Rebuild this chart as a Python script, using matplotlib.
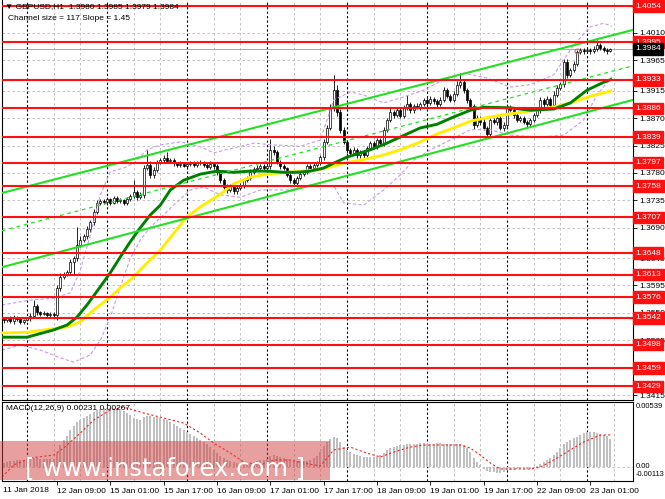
import matplotlib
matplotlib.use("Agg")
import matplotlib.pyplot as plt
import matplotlib.transforms as mtransforms
from matplotlib.patches import Rectangle

plt.rcParams['font.family'] = ['Liberation Sans', 'DejaVu Sans']

# H1 closes, one per bar (bar 1 = 11 Jan 17:00 ... bar 183 = 23 Jan 07:00)
closes = [1.3538, 1.3541, 1.3537, 1.3543, 1.3540, 1.3535, 1.3538, 1.3541, 1.3545, 1.3561,
          1.3551, 1.3548, 1.3550, 1.3546, 1.3548, 1.3546, 1.3591, 1.3609, 1.3614, 1.3617,
          1.3634, 1.3640, 1.3662, 1.3670, 1.3676, 1.3688, 1.3699, 1.3716, 1.3731, 1.3734,
          1.3732, 1.3737, 1.3731, 1.3739, 1.3734, 1.3735, 1.3731, 1.3737, 1.3742, 1.3749,
          1.3740, 1.3744, 1.3788, 1.3793, 1.3777, 1.3785, 1.3798, 1.3801, 1.3805, 1.3800,
          1.3801, 1.3796, 1.3793, 1.3795, 1.3791, 1.3795, 1.3796, 1.3793, 1.3796, 1.3798,
          1.3793, 1.3790, 1.3795, 1.3791, 1.3782, 1.3768, 1.3757, 1.3752, 1.3759, 1.3750,
          1.3755, 1.3759, 1.3768, 1.3772, 1.3782, 1.3786, 1.3788, 1.3791, 1.3788, 1.3791,
          1.3818, 1.3814, 1.3798, 1.3791, 1.3788, 1.3777, 1.3768, 1.3763, 1.3772, 1.3778,
          1.3782, 1.3791, 1.3788, 1.3793, 1.3796, 1.3806, 1.3831, 1.3854, 1.3887, 1.3916,
          1.3880, 1.3851, 1.3831, 1.3818, 1.3813, 1.3818, 1.3809, 1.3814, 1.3809, 1.3821,
          1.3829, 1.3824, 1.3834, 1.3829, 1.3851, 1.3867, 1.3880, 1.3875, 1.3883, 1.3874,
          1.3887, 1.3893, 1.3883, 1.3890, 1.3888, 1.3893, 1.3900, 1.3895, 1.3901, 1.3898,
          1.3893, 1.3900, 1.3916, 1.3906, 1.3900, 1.3910, 1.3925, 1.3929, 1.3916, 1.3900,
          1.3890, 1.3859, 1.3870, 1.3864, 1.3854, 1.3844, 1.3867, 1.3864, 1.3870, 1.3854,
          1.3859, 1.3888, 1.3883, 1.3875, 1.3867, 1.3870, 1.3864, 1.3860, 1.3867, 1.3875,
          1.3883, 1.3900, 1.3893, 1.3901, 1.3892, 1.3908, 1.3920, 1.3926, 1.3962, 1.3941,
          1.3949, 1.3959, 1.3979, 1.3982, 1.3980, 1.3982, 1.3980, 1.3984, 1.3990, 1.3985,
          1.3982, 1.3980, 1.3984]
first_open = 1.3540

# wick lengths in pips above / below the candle body
hi_wick = [3, 2, 4, 3, 2, 3, 2, 3, 4, 10, 3, 2, 3, 2, 4, 3, 4, 6, 3, 4,
           5, 4, 29, 6, 3, 4, 3, 5, 4, 3, 3, 4, 2, 3, 3, 4, 2, 3, 4, 19,
           3, 4, 5, 25, 6, 4, 4, 3, 5, 9, 3, 3, 2, 4, 3, 2, 3, 4, 3, 3,
           2, 3, 4, 3, 3, 2, 3, 4, 3, 2, 3, 4, 3, 3, 4, 3, 5, 3, 4, 3,
           18, 6, 4, 3, 3, 2, 3, 4, 3, 4, 3, 3, 4, 3, 3, 4, 5, 4, 6, 25,
           8, 5, 4, 3, 3, 4, 3, 4, 3, 4, 3, 4, 3, 4, 5, 4, 6, 3, 4, 5,
           4, 15, 4, 3, 5, 4, 3, 4, 5, 3, 3, 4, 6, 4, 3, 5, 6, 15, 5, 4,
           3, 4, 5, 3, 4, 3, 4, 3, 5, 3, 4, 6, 3, 4, 3, 4, 3, 3, 4, 3,
           4, 5, 3, 5, 4, 6, 5, 4, 6, 5, 4, 5, 3, 4, 3, 4, 3, 4, 8, 4,
           3, 3, 1]
lo_wick = [4, 3, 3, 5, 3, 4, 3, 2, 4, 3, 4, 3, 2, 4, 3, 3, 8, 5, 4, 3,
           4, 22, 5, 4, 3, 4, 5, 4, 3, 4, 3, 4, 3, 2, 4, 3, 4, 3, 3, 4,
           4, 3, 5, 4, 6, 5, 3, 4, 3, 4, 3, 4, 3, 3, 2, 4, 3, 3, 4, 3,
           3, 4, 3, 4, 5, 4, 6, 5, 4, 5, 4, 3, 4, 3, 3, 4, 3, 4, 3, 4,
           4, 5, 3, 4, 4, 3, 5, 4, 3, 4, 3, 4, 3, 3, 4, 3, 4, 3, 4, 5,
           6, 5, 4, 5, 4, 3, 5, 4, 6, 4, 3, 4, 5, 3, 4, 3, 4, 5, 3, 4,
           4, 3, 5, 4, 3, 4, 3, 4, 3, 4, 5, 3, 4, 3, 4, 3, 4, 5, 4, 5,
           4, 6, 4, 5, 4, 5, 4, 3, 5, 4, 5, 4, 3, 5, 4, 3, 4, 5, 3, 4,
           3, 4, 5, 3, 4, 5, 4, 3, 4, 5, 4, 3, 4, 3, 4, 3, 4, 3, 4, 3,
           3, 4, 1]

# MACD(12,26,9) histogram, one per bar
macd_hist = [0.00035, 0.00040, 0.00048, 0.00055, 0.00060, 0.00062, 0.00064, 0.00066, 0.00070, 0.00078,
             0.00076, 0.00072, 0.00070, 0.00068, 0.00066, 0.00070, 0.00118, 0.00184, 0.00225, 0.00258,
             0.00308, 0.00341, 0.00374, 0.00390, 0.00407, 0.00423, 0.00440, 0.00456, 0.00473, 0.00481,
             0.00489, 0.00489, 0.00489, 0.00481, 0.00489, 0.00473, 0.00464, 0.00448, 0.00431, 0.00407,
             0.00398, 0.00390, 0.00415, 0.00423, 0.00423, 0.00415, 0.00415, 0.00407, 0.00398, 0.00390,
             0.00374, 0.00357, 0.00341, 0.00324, 0.00308, 0.00291, 0.00275, 0.00258, 0.00242, 0.00225,
             0.00209, 0.00192, 0.00167, 0.00143, 0.00118, 0.00093, 0.00077, 0.00060, 0.00052, 0.00044,
             0.00035, 0.00027, 0.00019, 0.00019, 0.00027, 0.00044, 0.00052, 0.00060, 0.00060, 0.00068,
             0.00093, 0.00101, 0.00093, 0.00085, 0.00077, 0.00068, 0.00060, 0.00052, 0.00052, 0.00052,
             0.00052, 0.00052, 0.00060, 0.00077, 0.00093, 0.00126, 0.00176, 0.00209, 0.00233, 0.00250,
             0.00242, 0.00209, 0.00167, 0.00143, 0.00126, 0.00110, 0.00101, 0.00093, 0.00085, 0.00085,
             0.00085, 0.00085, 0.00085, 0.00101, 0.00118, 0.00143, 0.00159, 0.00167, 0.00176, 0.00184,
             0.00184, 0.00192, 0.00192, 0.00195, 0.00196, 0.00198, 0.00198, 0.00196, 0.00195, 0.00196,
             0.00198, 0.00198, 0.00196, 0.00195, 0.00196, 0.00195, 0.00192, 0.00190, 0.00184, 0.00159,
             0.00126, 0.00077, 0.00044, 0.00019, -0.00014, -0.00031, -0.00039, -0.00039, -0.00047, -0.00047,
             -0.00039, -0.00022, -0.00022, -0.00020, -0.00018, -0.00016, -0.00018, -0.00015, -0.00014, -0.00006,
             0.00011, 0.00027, 0.00044, 0.00060, 0.00077, 0.00101, 0.00126, 0.00159, 0.00192, 0.00209,
             0.00225, 0.00242, 0.00250, 0.00266, 0.00283, 0.00291, 0.00291, 0.00291, 0.00283, 0.00275,
             0.00266, 0.00258, 0.00231]

# MACD signal line (bar, value)
sig_k = [0.5, 4, 9, 16, 19, 24, 28, 33, 37, 43, 49, 55, 60, 64, 69, 73, 78, 82, 87, 91,
         96, 100, 105, 109, 114, 118, 123, 127, 138, 141, 144, 147, 150, 159, 162, 166, 171, 175, 180, 183.5]
sig_v = [-0.00080, 0.00019, 0.00077, 0.00101, 0.00159, 0.00283, 0.00390, 0.00473, 0.00497, 0.00448,
         0.00407, 0.00365, 0.00283, 0.00200, 0.00118, 0.00044, 0.00019, 0.00060, 0.00060, 0.00035,
         0.00011, 0.00143, 0.00167, 0.00126, 0.00085, 0.00126, 0.00167, 0.00184, 0.00184, 0.00159,
         0.00101, 0.00035, -0.00014, -0.00014, 0.00002, 0.00060, 0.00143, 0.00209, 0.00266, 0.00267]

# moving averages (bar, price)
ma_green_k = [0.5, 8, 16, 20, 23, 26, 30, 33, 36, 39, 42, 45, 48, 51, 55, 60, 65, 70, 75, 80,
              85, 89, 93, 97, 100, 104, 111, 116, 122, 126, 131, 136, 141, 145, 153, 159, 166, 171, 176, 181, 183.5]
ma_green_v = [1.3510, 1.3510, 1.3522, 1.3530, 1.3543, 1.3563, 1.3593, 1.3616, 1.3642, 1.3667,
              1.3690, 1.3711, 1.3727, 1.3752, 1.3768, 1.3778, 1.3783, 1.3781, 1.3783, 1.3783,
              1.3781, 1.3781, 1.3783, 1.3788, 1.3796, 1.3806, 1.3818, 1.3829, 1.3844, 1.3854,
              1.3860, 1.3872, 1.3883, 1.3888, 1.3887, 1.3883, 1.3885, 1.3895, 1.3916, 1.3929, 1.3934]
ma_yellow_k = [0.5, 8, 16, 20, 24, 27, 30, 33, 36, 40, 44, 48, 56, 60, 66, 70, 75, 80, 86, 91,
               95, 99, 103, 108, 114, 120, 126, 131, 136, 141, 147, 153, 159, 165, 171, 177, 183.5]
ma_yellow_v = [1.3517, 1.3518, 1.3524, 1.3527, 1.3535, 1.3550, 1.3563, 1.3576, 1.3591, 1.3609,
               1.3632, 1.3653, 1.3708, 1.3724, 1.3745, 1.3762, 1.3773, 1.3778, 1.3781, 1.3783,
               1.3785, 1.3790, 1.3796, 1.3801, 1.3808, 1.3818, 1.3831, 1.3844, 1.3854, 1.3865,
               1.3872, 1.3877, 1.3882, 1.3887, 1.3895, 1.3906, 1.3915]

# bands (bar, price)
bb_up_k = [0.5, 9, 16, 21, 24, 27, 30, 33, 37, 40, 44, 48, 54, 60, 64, 70, 76, 82, 90, 96,
           100, 105, 109, 115, 121, 127, 133, 139, 146, 153, 159, 166, 172, 177, 181, 183.5]
bb_up_v = [1.3563, 1.3571, 1.3574, 1.3583, 1.3620, 1.3678, 1.3744, 1.3782, 1.3788, 1.3796,
           1.3818, 1.3826, 1.3831, 1.3823, 1.3813, 1.3821, 1.3829, 1.3826, 1.3824, 1.3834,
           1.3900, 1.3913, 1.3908, 1.3895, 1.3905, 1.3916, 1.3933, 1.3944, 1.3936, 1.3921,
           1.3925, 1.3941, 1.3990, 1.4020, 1.4026, 1.4021]
bb_lo_k = [0.5, 6, 12, 18, 22, 27, 30, 33, 36, 39, 42, 45, 48, 52, 57, 61, 66, 72, 78, 87,
           93, 100, 103, 109, 115, 120, 124, 129, 135, 141, 147, 153, 162, 169, 175, 179, 183.5]
bb_lo_v = [1.3489, 1.3497, 1.3489, 1.3476, 1.3469, 1.3481, 1.3505, 1.3543, 1.3593, 1.3640,
           1.3670, 1.3691, 1.3706, 1.3727, 1.3752, 1.3757, 1.3744, 1.3740, 1.3752, 1.3752,
           1.3760, 1.3759, 1.3731, 1.3727, 1.3752, 1.3777, 1.3801, 1.3818, 1.3834, 1.3851,
           1.3851, 1.3842, 1.3839, 1.3842, 1.3867, 1.3908, 1.3938]

# regression channel end points
chan_k = [0.5, 189.8]
chan_up = [1.3747, 1.4015]
chan_mid = [1.3685, 1.3956]
chan_lo = [1.3625, 1.3900]

levels = [1.4054, 1.3995, 1.3933, 1.3886, 1.3839, 1.3797, 1.3758, 1.3707,
          1.3648, 1.3613, 1.3576, 1.3542, 1.3498, 1.3459, 1.3429]
price_ticks = [1.4010, 1.3965, 1.3915, 1.3870, 1.3825, 1.3780, 1.3735,
               1.3690, 1.3640, 1.3595, 1.3550, 1.3505, 1.3460, 1.3415]
last_price = 1.3984

time_k = [17, 33, 49, 65, 81, 97, 113, 129, 145, 161, 177]
time_labels = ["12 Jan 09:00", "15 Jan 01:00", "15 Jan 17:00", "16 Jan 09:00",
               "17 Jan 01:00", "17 Jan 17:00", "18 Jan 09:00", "19 Jan 01:00",
               "19 Jan 17:00", "22 Jan 09:00", "23 Jan 01:00"]

W, H = 665, 499
fig = plt.figure(figsize=(6.65, 4.99), dpi=100)
ax = fig.add_axes([2 / W, 1 - 400 / H, 631 / W, 400 / H])
mx = fig.add_axes([2 / W, 1 - 481 / H, 631 / W, 79 / H])

xmin, xmax = 0.5, 189.8
for a in (ax, mx):
    a.set_xlim(xmin, xmax)
    for k in range(0, 190, 8):
        if (k - 8) % 24 == 0:
            a.axvline(k, color='black', lw=0.8, ls=(0, (2, 2)), zorder=0.8)
        else:
            a.axvline(k, color='#b8b8b8', lw=0.6, ls=(0, (3, 3)), zorder=0.5)
    for s in a.spines.values():
        s.set_linewidth(0.8)

ax.set_ylim(1.34068, 1.40642)
ax.spines['top'].set_visible(False)
for p in price_ticks:
    ax.axhline(p, color='#b8b8b8', lw=0.6, ls=(0, (3, 3)), zorder=0.5)

# candles
bars = list(range(1, len(closes) + 1))
opens = [first_open] + closes[:-1]
for k, o, c, hw, lw_ in zip(bars, opens, closes, hi_wick, lo_wick):
    top, bot = max(o, c), min(o, c)
    ax.vlines(k, bot - lw_ * 0.0001, top + hw * 0.0001, color='black', lw=0.6, zorder=2)
    ax.bar(k, max(top - bot, 0.00002), bottom=bot, width=0.62,
           color='white' if c >= o else 'black', edgecolor='black', lw=0.5, zorder=2.1)

# indicators
ax.plot(bb_up_k, bb_up_v, color='#c89be6', lw=0.8, ls=(0, (3, 2)), zorder=2.5)
ax.plot(bb_lo_k, bb_lo_v, color='#c89be6', lw=0.8, ls=(0, (3, 2)), zorder=2.5)
ax.plot(ma_yellow_k, ma_yellow_v, color='#ffee00', lw=2.1, zorder=2.6, solid_capstyle='butt')
ax.plot(ma_green_k, ma_green_v, color='#008000', lw=2.1, zorder=2.7, solid_capstyle='butt')

# objects
ax.plot(chan_k, chan_up, color='#22e022', lw=1.5, zorder=3)
ax.plot(chan_k, chan_lo, color='#22e022', lw=1.5, zorder=3)
ax.plot(chan_k, chan_mid, color='#22e022', lw=0.9, ls=(0, (3, 3)), zorder=3)
for lv in levels:
    ax.axhline(lv, color='#ff1010', lw=1.5, zorder=3.2)
ax.axhline(last_price, color='#a8a8a8', lw=0.7, zorder=1)
ax.plot([173], [1.3981], marker='o', ms=3.5, mfc='none', mec='#e06060', mew=0.8, zorder=3.3)

ax.set_xticks([])
ax.yaxis.tick_right()
ax.set_yticks(price_ticks)
ax.set_yticklabels(["%.4f" % p for p in price_ticks])
ax.tick_params(axis='y', length=3, width=0.6, labelsize=6, pad=1.5)

trans = mtransforms.blended_transform_factory(ax.transAxes, ax.transData)
for lv in levels:
    ax.text(1.004, lv, "%.4f" % lv, transform=trans, ha='left', va='center', fontsize=6,
            color='white', clip_on=False, zorder=10,
            bbox=dict(boxstyle='square,pad=0.28', fc='#ff1010', ec='#ff1010'))
ax.text(1.004, last_price, "%.4f" % last_price, transform=trans, ha='left', va='center',
        fontsize=6, color='white', clip_on=False, zorder=10,
        bbox=dict(boxstyle='square,pad=0.28', fc='black', ec='black'))

# MACD panel
mx.set_ylim(-0.00113, 0.00539)
mx.bar(bars, macd_hist, width=0.6, color='#c0c0c0', zorder=1)
mx.axhline(0, color='#b8b8b8', lw=0.6, ls=(0, (3, 3)), zorder=0.5)
mx.plot(sig_k, sig_v, color='#ff2020', lw=0.8, ls=(0, (2, 2)), zorder=2)
mx.set_yticks([])
mx.set_xticks(time_k)
mx.set_xticklabels(time_labels, fontsize=6, ha='left')
mx.tick_params(axis='x', length=3, width=0.6, pad=2)

fig.text(3 / W, 1 - 490 / H, "11 Jan 2018", fontsize=6, va='center', ha='left')
fig.text(636 / W, 1 - 407 / H, "0.00539", fontsize=5.5, va='center')
fig.text(636 / W, 1 - 466 / H, "0.00", fontsize=5.5, va='center')
fig.text(636 / W, 1 - 475 / H, "-0.00113", fontsize=5.3, va='center')
fig.text(6 / W, 1 - 408 / H, "MACD(12,26,9) 0.00231 0.00267", fontsize=6, va='center')

fig.text(5 / W, 1 - 7 / H, "\u25bc GBPUSD,H1  1.3980 1.3985 1.3979 1.3984", fontsize=6, va='center')
fig.text(8 / W, 1 - 19 / H, "Channel size = 117 Slope = 1.45", fontsize=6, va='center')

# watermark
fig.add_artist(Rectangle((0, 1 - 480 / H), 330 / W, 39 / H, transform=fig.transFigure,
                         fc='#d04040', ec='none', alpha=0.5, zorder=5))
fig.text(165 / W, 1 - 468 / H, "[ www.instaforex.com ]", fontsize=17.5, color='white',
         ha='center', va='center', zorder=6, family='DejaVu Sans')

fig.savefig("out.png", dpi=100)
